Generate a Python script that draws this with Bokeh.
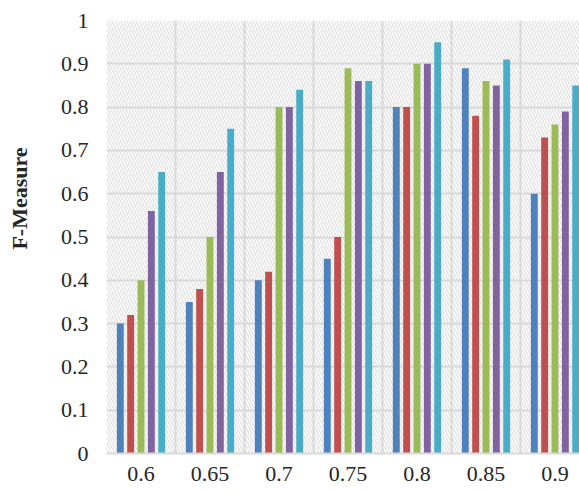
from bokeh.plotting import figure
from bokeh.models import FixedTicker, Range1d
from bokeh.embed import file_html
from bokeh.resources import INLINE

categories = ["0.6", "0.65", "0.7", "0.75", "0.8", "0.85", "0.9"]
series_blue = [0.30, 0.35, 0.40, 0.45, 0.80, 0.89, 0.60]
series_red = [0.32, 0.38, 0.42, 0.50, 0.80, 0.78, 0.73]
series_green = [0.40, 0.50, 0.80, 0.89, 0.90, 0.86, 0.76]
series_purple = [0.56, 0.65, 0.80, 0.86, 0.90, 0.85, 0.79]
series_cyan = [0.65, 0.75, 0.84, 0.86, 0.95, 0.91, 0.85]
y_ticks = [0, 0.1, 0.2, 0.3, 0.4, 0.5, 0.6, 0.7, 0.8, 0.9, 1]
y_title = "F-Measure"

series = [series_blue, series_red, series_green, series_purple, series_cyan]
colors = ["#4F81BD", "#C0504D", "#9BBB59", "#8064A2", "#4BACC6"]
offsets = [-0.3, -0.15, 0.0, 0.15, 0.3]

FONT = "Liberation Serif"
GRID = "#d9d9d9"

p = figure(width=579, height=490, output_backend="svg", toolbar_location=None,
           x_range=Range1d(0, 6.855), y_range=Range1d(0, 1.0),
           min_border_left=106, min_border_right=0, min_border_top=20, min_border_bottom=37)
p.outline_line_color = None

# hatched background
p.quad(left=[0], right=[len(categories)], bottom=[0], top=[1], fill_color=None, line_color=None,
       hatch_pattern="\\", hatch_color="#dedede", hatch_weight=1.2, hatch_scale=6, level="underlay")

n = len(categories)
centers = [i + 0.5 for i in range(n)]
for s, c, off in zip(series, colors, offsets):
    p.vbar(x=[ci + off for ci in centers], top=s, width=0.1, fill_color=c, line_color=None)

# axes
p.xaxis.ticker = FixedTicker(ticks=centers)
p.xaxis.major_label_overrides = {ci: lab for ci, lab in zip(centers, categories)}
p.yaxis.ticker = FixedTicker(ticks=y_ticks)
p.yaxis.major_label_overrides = {0: "0", 1: "1"}
for ax in (p.xaxis, p.yaxis):
    ax.major_tick_line_color = None
    ax.minor_tick_line_color = None
    ax.major_tick_out = 0
    ax.major_tick_in = 0
    ax.major_label_text_font = FONT
    ax.major_label_text_font_size = "22px"
    ax.major_label_text_color = "#262626"
p.yaxis.axis_line_color = None
p.xaxis.axis_line_color = GRID
p.xaxis.axis_line_width = 2
p.xaxis.major_label_standoff = 13
p.yaxis.major_label_standoff = 18

# y axis title; leading en spaces lift it above the axis centre as in the original
p.yaxis.axis_label = "\u2002" * 7 + y_title
p.yaxis.axis_label_text_font = FONT
p.yaxis.axis_label_text_font_style = "bold"
p.yaxis.axis_label_text_font_size = "22px"
p.yaxis.axis_label_text_color = "#262626"
p.yaxis.axis_label_standoff = 26

# grids
p.xgrid.ticker = FixedTicker(ticks=list(range(n + 1)))
p.xgrid.grid_line_color = GRID
p.xgrid.grid_line_width = 2
p.ygrid.grid_line_color = GRID
p.ygrid.grid_line_width = 2

open("out.html", "w").write(file_html(p, INLINE))
